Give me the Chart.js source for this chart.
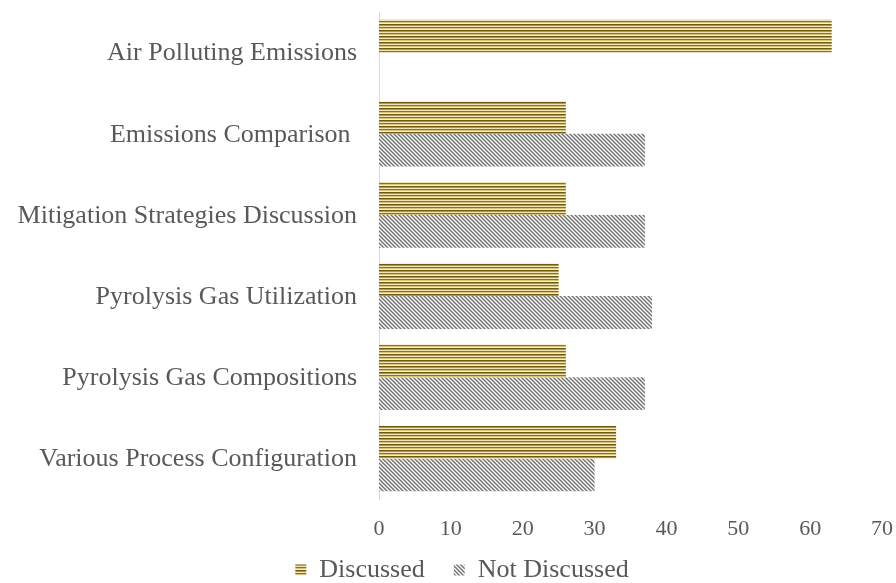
<!DOCTYPE html>
<html>
<head>
<meta charset="utf-8">
<script src="https://cdn.jsdelivr.net/npm/chart.js@4/dist/chart.umd.min.js"></script>
<style>
html,body{margin:0;padding:0;background:#fff;}
#wrap{width:896px;height:583px;}
</style>
</head>
<body>
<div id="wrap"><canvas id="c" width="896" height="583"></canvas></div>
<script>
const categories = [
  "Air Polluting Emissions",
  "Emissions Comparison ",
  "Mitigation Strategies Discussion",
  "Pyrolysis Gas Utilization",
  "Pyrolysis Gas Compositions",
  "Various Process Configuration"
];
const discussed = [63, 26, 26, 25, 26, 33];
const notDiscussed = [0, 37, 37, 38, 37, 30];
const seriesNames = ["Discussed", "Not Discussed"];

function stripePattern() {
  const rows = ['#6e5a0a', '#b49a3a', '#efe5bb', '#8a7418', '#d6c27a', '#f6efd2'];
  const c = document.createElement('canvas');
  c.width = 4; c.height = rows.length;
  const x = c.getContext('2d');
  rows.forEach((col, i) => { x.fillStyle = col; x.fillRect(0, i, 4, 1); });
  return x.createPattern(c, 'repeat');
}
function hatchPattern() {
  const c = document.createElement('canvas');
  c.width = 4; c.height = 4;
  const x = c.getContext('2d');
  x.fillStyle = '#ffffff'; x.fillRect(0, 0, 4, 4);
  x.strokeStyle = '#737373'; x.lineWidth = 1.5;
  x.beginPath();
  x.moveTo(-1, -1); x.lineTo(5, 5);
  x.moveTo(-1, 3); x.lineTo(1, 5);
  x.moveTo(3, -1); x.lineTo(5, 1);
  x.stroke();
  return x.createPattern(c, 'repeat');
}

const noClip = s => { s._computeLabelArea = () => undefined; };
const serif = "'Liberation Serif', 'Times New Roman', serif";
new Chart(document.getElementById('c'), {
  type: 'bar',
  data: {
    labels: categories,
    datasets: [
      { label: seriesNames[0], data: discussed, backgroundColor: stripePattern(), borderWidth: 0 },
      { label: seriesNames[1], data: notDiscussed, backgroundColor: hatchPattern(), borderWidth: 0 }
    ]
  },
  options: {
    indexAxis: 'y',
    responsive: false,
    animation: false,
    devicePixelRatio: 1,
    layout: { padding: { top: 12, right: 14, left: 42, bottom: -10 } },
    datasets: { bar: { categoryPercentage: 0.81, barPercentage: 1.0 } },
    scales: {
      x: {
        min: 0, max: 70,
        ticks: { stepSize: 10, color: '#595959', font: { family: serif, size: 22 }, padding: 17 },
        grid: { display: false, drawTicks: false },
        border: { display: false },
        afterFit: s => { s.height = 29; s.paddingLeft = 0; s.paddingRight = 0; noClip(s); }
      },
      y: {
        ticks: { color: '#595959', font: { family: serif, size: 26 }, padding: 22, labelOffset: 1 },
        grid: { display: false, drawTicks: false },
        border: { display: true, color: '#d9d9d9', width: 1 },
        afterFit: s => { s.width = 337; s.paddingTop = 0; s.paddingBottom = 0; noClip(s); }
      }
    },
    plugins: {
      legend: {
        position: 'bottom',
        labels: { color: '#595959', font: { family: serif, size: 26, lineHeight: 1 }, boxWidth: 11, boxHeight: 11, padding: 29 }
      },
      tooltip: { enabled: false }
    }
  }
});
</script>
</body>
</html>
